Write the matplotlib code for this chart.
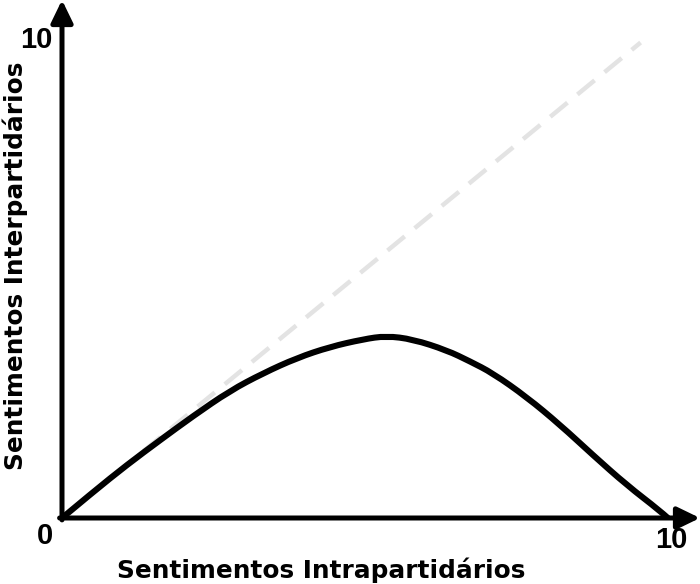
import numpy as np
import matplotlib
matplotlib.use('Agg')
import matplotlib.pyplot as plt
from matplotlib.path import Path
from matplotlib.patches import PathPatch

# curve (x = intrapartidarios, y = interpartidarios)
curve_x = [0.0, 0.51, 1.07, 1.62, 2.16, 2.77, 3.32, 3.88, 4.42, 4.97, 5.35,
           5.79, 6.35, 6.73, 7.11, 7.67, 8.22, 8.76, 9.32, 9.87, 10.0]
curve_y = [0.0, 0.54, 1.11, 1.63, 2.13, 2.66, 3.03, 3.35, 3.58, 3.74, 3.81,
           3.74, 3.51, 3.28, 3.03, 2.53, 1.95, 1.32, 0.69, 0.15, 0.0]

# reference diagonal
diag_x = [0.0, 9.55]
diag_y = [0.0, 9.95]

x_label = 'Sentimentos Intrapartidários'
y_label = 'Sentimentos Interpartidários'
tick_text = ['0', '10']

fig = plt.figure(figsize=(7.0, 5.84), dpi=100)
ax = fig.add_axes([62 / 700, 66 / 584, 638 / 700, 518 / 584])
ax.set_xlim(0, 10.53)
ax.set_ylim(0, 10.84)
ax.axis('off')

ax.plot(diag_x, diag_y, color='#e3e3e3', lw=3.2, dashes=(5, 2.9),
        solid_capstyle='butt', zorder=1)

# smooth curve: read points used as quadratic bezier controls
pts = np.column_stack([curve_x, curve_y])
verts = [pts[0]]
codes = [Path.MOVETO]
for i in range(1, len(pts) - 1):
    end = pts[i + 1] if i == len(pts) - 2 else (pts[i] + pts[i + 1]) / 2
    verts += [pts[i], end]
    codes += [Path.CURVE3, Path.CURVE3]
curve = PathPatch(Path(verts, codes), facecolor='none', edgecolor='black',
                  lw=4.4, capstyle='round', joinstyle='round', zorder=2)
ax.add_patch(curve)

# axes with arrow heads
arrow_kw = dict(arrowstyle='-|>,head_length=0.68,head_width=0.33', lw=3.6,
                color='black', shrinkA=0, shrinkB=0, mutation_scale=20)
ax.annotate('', xy=(10.53, 0), xytext=(-0.04, 0), arrowprops=arrow_kw,
            annotation_clip=False, zorder=3)
ax.annotate('', xy=(0, 10.84), xytext=(0, -0.04), arrowprops=arrow_kw,
            annotation_clip=False, zorder=3)

num_font = dict(family='Liberation Sans', fontweight='bold', fontsize=21)
ax.text(-0.28, -0.38, tick_text[0], ha='center', va='center', **num_font)
ax.text(10.05, -0.46, tick_text[1], ha='center', va='center', **num_font)
ax.text(-0.43, 10.0, tick_text[1], ha='center', va='center', **num_font)

lab_font = dict(family='DejaVu Sans', fontweight='bold', fontsize=17.8)
fig.text(321 / 700, 1 - 570 / 584, x_label, ha='center', va='center', **lab_font)
fig.text(15 / 700, 1 - 266 / 584, y_label, ha='center', va='center',
         rotation=90, **lab_font)

fig.savefig('out.png', dpi=100)
